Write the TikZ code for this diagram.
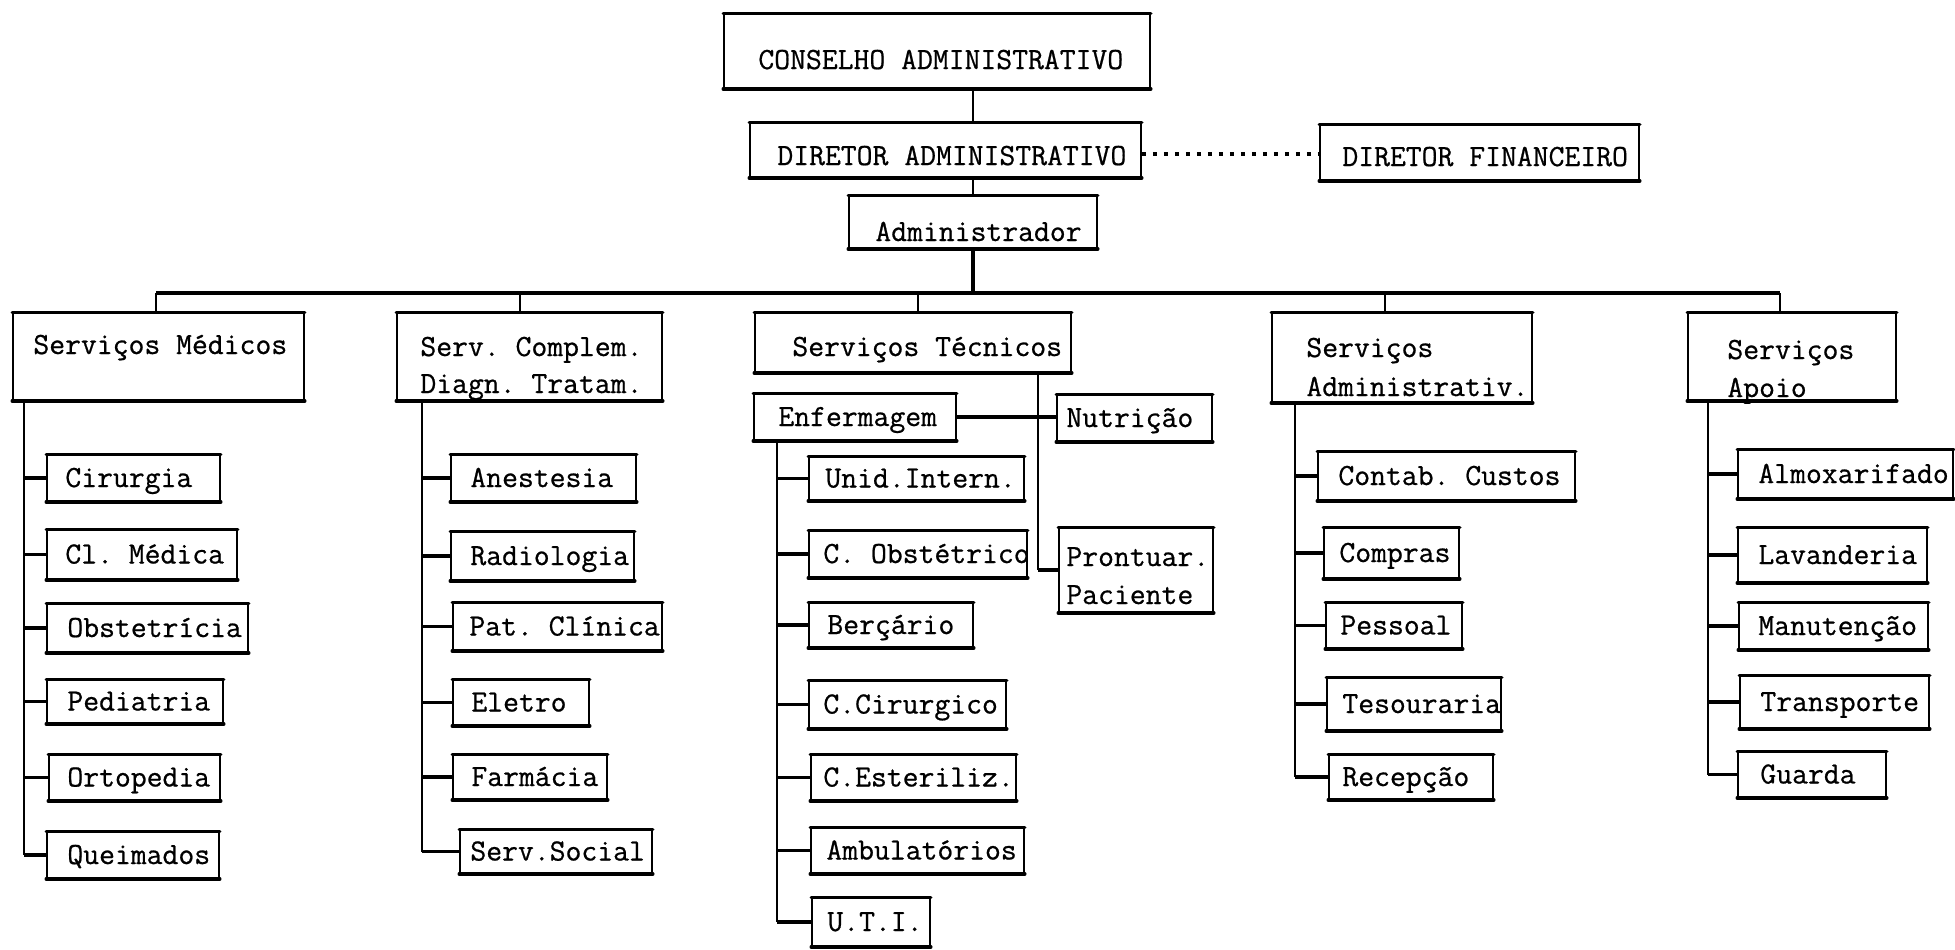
\documentclass[tikz,border=0pt]{standalone}
\usepackage{fontspec}
\setmonofont[FakeBold=0.7]{Latin Modern Mono}
\usetikzlibrary{fit}

\tikzset{
  box/.style={draw, line width=0.9pt, inner sep=0pt},
  hedge/.style={line width=1.6pt, line cap=round},
  lbl/.style={font=\ttfamily\fontsize{15.4}{18}\selectfont, inner sep=0pt, anchor=base west},
  trunk/.style={line width=1pt},
  branch/.style={line width=1.6pt},
  dotline/.style={line width=2pt, dash pattern=on 2pt off 3.5pt},
}

% a framed unit: name, left, top, right, bottom (pixel units, y downwards)
\newcommand\orgbox[5]{%
  \node[box, fit={(#2,#3) (#4,#5)}] (#1) {};
  \draw[hedge] (#1.north west) -- (#1.north east) (#1.south west) -- (#1.south east);}
% a one-line unit: name, left, top, right, bottom, text start, text
\newcommand\orgleaf[7]{%
  \orgbox{#1}{#2}{#3}{#4}{#5}
  \node[lbl] (#1-t) at (#6,{(#3+#5)/2+9}) {#7};}

\begin{document}
\begin{tikzpicture}[x=0.5pt, y=-0.5pt]
\useasboundingbox (0,0) rectangle (1955,949);

% top of the hierarchy
\orgbox{cons}{724}{14}{1150}{88}
\node[lbl] (cons-t) at (758,69) {CONSELHO ADMINISTRATIVO};
\orgbox{dir}{750}{123}{1141}{177}
\node[lbl] (dir-t) at (777,165) {DIRETOR ADMINISTRATIVO};
\orgbox{fin}{1320}{125}{1639}{180}
\node[lbl] (fin-t) at (1342,166) {DIRETOR FINANCEIRO};
\orgbox{admr}{849}{196}{1097}{248}
\node[lbl] (admr-t) at (875,241) {Administrador};

\draw[trunk] (cons.south -| admr.north) -- (dir.north -| admr.north);
\draw[trunk] (dir.south -| admr.north) -- (admr.north);
\draw[dotline] ([yshift=-2pt]dir.east) -- ([yshift=-2pt]dir.east -| fin.west);

% distribution bus
\coordinate (b1) at (156,293);
\coordinate (b2) at (520,293);
\coordinate (b3) at (918,293);
\coordinate (b4) at (1385,293);
\coordinate (b5) at (1780,293);
\draw[branch] (admr.south) -- (admr.south |- b1);
\draw[branch, line width=1.8pt] (b1) -- (b5);

% services
\orgbox{sm}{13}{313}{304}{400}
\node[lbl] (sm-t) at (33,354) {Serviços Médicos};
\orgbox{sc}{397}{313}{662}{400}
\node[lbl] (sc-t1) at (420,356) {Serv. Complem.};
\node[lbl] (sc-t2) at (420,393) {Diagn. Tratam.};
\orgbox{st}{755}{313}{1071}{372}
\node[lbl] (st-t) at (792,356) {Serviços Técnicos};
\orgbox{sa}{1272}{313}{1532}{402}
\node[lbl] (sa-t1) at (1306,357) {Serviços};
\node[lbl] (sa-t2) at (1306,396) {Administrativ.};
\orgbox{sp}{1688}{313}{1896}{400}
\node[lbl] (sp-t1) at (1727,359) {Serviços};
\node[lbl] (sp-t2) at (1727,397) {Apoio};

\draw[trunk] (b1) -- (b1 |- sm.north);
\draw[trunk] (b2) -- (b2 |- sc.north);
\draw[trunk] (b3) -- (b3 |- st.north);
\draw[trunk] (b4) -- (b4 |- sa.north);
\draw[trunk] (b5) -- (b5 |- sp.north);

% Serviços Médicos
\orgleaf{cir}{47}{455}{220}{501}{65}{Cirurgia}
\orgleaf{clm}{47}{530}{237}{579}{65}{Cl. Médica}
\orgleaf{obs}{47}{604}{248}{652}{67}{Obstetrícia}
\orgleaf{ped}{47}{680}{223}{723}{67}{Pediatria}
\orgleaf{ort}{49}{755}{220}{800}{67}{Ortopedia}
\orgleaf{que}{47}{832}{219}{878}{67}{Queimados}
\coordinate (c1) at (24,400);
\draw[trunk] (c1) -- (c1 |- que.west);
\foreach \n in {cir,clm,obs,ped,ort,que} \draw[branch] (c1 |- \n.west) -- (\n.west);

% Serv. Complem. Diagn. Tratam.
\orgleaf{ane}{451}{455}{636}{501}{470}{Anestesia}
\orgleaf{rad}{451}{532}{634}{580}{470}{Radiologia}
\orgleaf{pat}{453}{603}{662}{650}{469}{Pat. Clínica}
\orgleaf{ele}{453}{680}{589}{725}{471}{Eletro}
\orgleaf{far}{453}{755}{607}{799}{471}{Farmácia}
\orgleaf{soc}{460}{830}{652}{873}{470}{Serv.Social}
\coordinate (c2) at (422,400);
\draw[trunk] (c2) -- (c2 |- soc.west);
\foreach \n in {ane,rad,pat,ele,far,soc} \draw[branch] (c2 |- \n.west) -- (\n.west);

% Serviços Técnicos
\orgleaf{enf}{754}{394}{956}{440}{778}{Enfermagem}
\orgleaf{nut}{1057}{395}{1212}{441}{1066}{Nutrição}
\orgbox{pro}{1059}{528}{1213}{612}
\node[lbl] (pro-t1) at (1066,566) {Prontuar.};
\node[lbl] (pro-t2) at (1066,604) {Paciente};
\coordinate (c3) at (1038,372);
\draw[trunk] (c3) -- (c3 |- pro.west);
\draw[branch] (enf.east) -- (enf.east -| nut.west);
\draw[branch] (c3 |- pro.west) -- (pro.west);

% Enfermagem
\orgleaf{uni}{809}{457}{1024}{500}{825}{Unid.Intern.}
\orgleaf{cob}{809}{531}{1027}{577}{823}{C. Obstétrico}
\orgleaf{ber}{809}{603}{973}{647}{827}{Berçário}
\orgleaf{cci}{809}{681}{1006}{728}{823}{C.Cirurgico}
\orgleaf{ces}{811}{755}{1016}{800}{823}{C.Esteriliz.}
\orgleaf{amb}{811}{828}{1024}{873}{826}{Ambulatórios}
\orgleaf{uti}{812}{898}{930}{946}{827}{U.T.I.}
\coordinate (c6) at (777,440);
\draw[trunk] (c6) -- (c6 |- uti.west);
\foreach \n in {uni,cob,ber,cci,ces,amb,uti} \draw[branch] (c6 |- \n.west) -- (\n.west);

% Serviços Administrativos
\orgleaf{con}{1318}{452}{1575}{500}{1338}{Contab. Custos}
\orgleaf{com}{1324}{528}{1459}{578}{1339}{Compras}
\orgleaf{pes}{1326}{603}{1462}{648}{1340}{Pessoal}
\orgleaf{tes}{1327}{678}{1501}{730}{1342}{Tesouraria}
\orgleaf{rec}{1329}{755}{1493}{799}{1342}{Recepção}
\coordinate (c4) at (1295,402);
\draw[trunk] (c4) -- (c4 |- rec.west);
\foreach \n in {con,com,pes,tes,rec} \draw[branch] (c4 |- \n.west) -- (\n.west);

% Serviços de Apoio
\orgleaf{alm}{1738}{450}{1953}{498}{1758}{Almoxarifado}
\orgleaf{lav}{1738}{528}{1927}{582}{1758}{Lavanderia}
\orgleaf{man}{1739}{603}{1928}{649}{1758}{Manutenção}
\orgleaf{tra}{1740}{676}{1929}{728}{1760}{Transporte}
\orgleaf{gua}{1738}{752}{1886}{797}{1760}{Guarda}
\coordinate (c5) at (1708,400);
\draw[trunk] (c5) -- (c5 |- gua.west);
\foreach \n in {alm,lav,man,tra,gua} \draw[branch] (c5 |- \n.west) -- (\n.west);
\end{tikzpicture}
\end{document}
